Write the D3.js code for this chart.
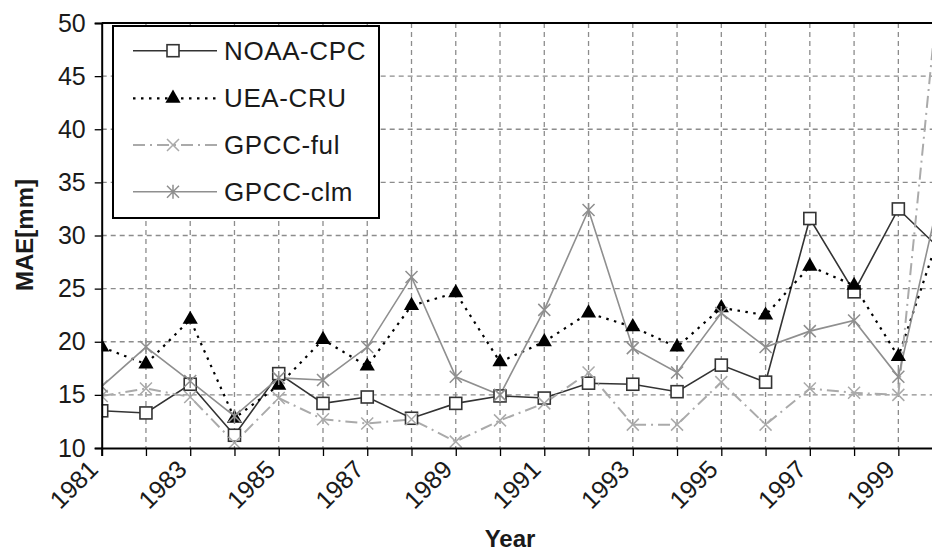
<!DOCTYPE html>
<html>
<head>
    <meta charset="utf-8">
    <title>MAE per year</title>
    <script src="https://cdn.jsdelivr.net/npm/d3@7"></script>
    <style>
        body { margin: 0; background: #fff; }
        text { font-family: "Liberation Sans", Arial, sans-serif; fill: #1a1a1a; }
        .grid line { stroke: #8c8c8c; stroke-width: 1.3; stroke-dasharray: 5,4; }
    </style>
</head>
<body>
<script>
    // donnees
    var years = [1981, 1982, 1983, 1984, 1985, 1986, 1987, 1988, 1989, 1990,
                 1991, 1992, 1993, 1994, 1995, 1996, 1997, 1998, 1999, 2000];
    var noaaCpc = [13.5, 13.3, 16.0, 11.2, 17.0, 14.2, 14.8, 12.8, 14.2, 14.9,
                   14.7, 16.1, 16.0, 15.3, 17.8, 16.2, 31.6, 24.7, 32.5, 28.5];
    var ueaCru  = [19.5, 17.9, 22.1, 12.8, 15.9, 20.2, 17.7, 23.4, 24.6, 18.1,
                   20.0, 22.7, 21.4, 19.5, 23.2, 22.5, 27.1, 25.3, 18.6, 31.0];
    var gpccFul = [14.9, 15.6, 14.8, 10.5, 14.7, 12.7, 12.3, 12.7, 10.6, 12.6,
                   14.2, 17.1, 12.2, 12.2, 16.2, 12.2, 15.6, 15.2, 15.0, 57.0];
    var gpccClm = [15.8, 19.5, 16.3, 13.0, 16.6, 16.4, 19.5, 26.1, 16.7, 15.0,
                   23.0, 32.4, 19.4, 17.1, 22.7, 19.5, 21.0, 22.0, 16.7, 35.0];
    var yTicks = [10, 15, 20, 25, 30, 35, 40, 45, 50];
    var xLabels = [1981, 1983, 1985, 1987, 1989, 1991, 1993, 1995, 1997, 1999];
    var seriesNames = ["NOAA-CPC", "UEA-CRU", "GPCC-ful", "GPCC-clm"];

    var width = 932, height = 551;
    var mLeft = 101.7, mTop = 23, mRight = 942.6, mBottom = 448;

    var x = d3.scaleLinear().domain([1981, 2000]).range([mLeft, mRight]);
    var y = d3.scaleLinear().domain([10, 50]).range([mBottom, mTop]);

    var svg = d3.select("body").append("svg")
        .attr("width", width)
        .attr("height", height);

    svg.append("clipPath").attr("id", "plot")
        .append("rect")
        .attr("x", mLeft).attr("y", mTop)
        .attr("width", mRight - mLeft).attr("height", mBottom - mTop);

    // grille
    var grid = svg.append("g").attr("class", "grid");
    grid.selectAll(".v").data(years.slice(1)).enter().append("line")
        .attr("x1", function(d) { return x(d); }).attr("x2", function(d) { return x(d); })
        .attr("y1", mTop).attr("y2", mBottom);
    grid.selectAll(".h").data(yTicks.slice(1, -1)).enter().append("line")
        .attr("x1", mLeft).attr("x2", mRight)
        .attr("y1", function(d) { return y(d); }).attr("y2", function(d) { return y(d); });

    // series
    var styles = [
        { data: noaaCpc, color: "#333", width: 1.6, dash: null, marker: "square" },
        { data: ueaCru,  color: "#000", width: 2.2, dash: "2.5,5.5", marker: "triangle" },
        { data: gpccFul, color: "#aaa", width: 2,   dash: "12,5,2,5", marker: "x" },
        { data: gpccClm, color: "#8f8f8f", width: 1.6, dash: null, marker: "star" }
    ];

    function drawMarker(g, type, color) {
        if (type === "square") {
            g.append("rect").attr("x", -6).attr("y", -6).attr("width", 12).attr("height", 12)
                .attr("fill", "#fff").attr("stroke", "#333").attr("stroke-width", 1.6);
        } else if (type === "triangle") {
            g.append("path").attr("d", d3.symbol(d3.symbolTriangle, 100)())
                .attr("fill", "#000");
        } else if (type === "x") {
            g.append("path").attr("d", "M-6,-6L6,6M-6,6L6,-6")
                .attr("stroke", color).attr("stroke-width", 1.5).attr("fill", "none");
        } else {
            g.append("path").attr("d", "M-6,-6L6,6M-6,6L6,-6M0,-7L0,7")
                .attr("stroke", color).attr("stroke-width", 1.5).attr("fill", "none");
        }
    }

    var line = d3.line()
        .x(function(d, i) { return x(years[i]); })
        .y(function(d) { return y(d); });

    var plot = svg.append("g").attr("clip-path", "url(#plot)");
    styles.forEach(function(s) {
        plot.append("path")
            .attr("d", line(s.data))
            .attr("fill", "none")
            .attr("stroke", s.color)
            .attr("stroke-width", s.width)
            .attr("stroke-dasharray", s.dash);
    });
    styles.forEach(function(s) {
        s.data.forEach(function(v, i) {
            var g = plot.append("g").attr("transform", "translate(" + x(years[i]) + "," + y(v) + ")");
            drawMarker(g, s.marker, s.color);
        });
    });

    // axes
    svg.append("line").attr("x1", mLeft).attr("x2", width).attr("y1", mTop).attr("y2", mTop)
        .attr("stroke", "#000").attr("stroke-width", 2);

    var yAxis = svg.append("g").attr("transform", "translate(" + mLeft + ",0)")
        .call(d3.axisLeft(y).tickValues(yTicks).tickSize(7).tickPadding(9).tickFormat(d3.format("d")));
    var xAxis = svg.append("g").attr("transform", "translate(0," + mBottom + ")")
        .call(d3.axisBottom(x).tickValues(years).tickSize(8).tickFormat(""));
    [yAxis, xAxis].forEach(function(a) {
        a.select(".domain").attr("stroke", "#000").attr("stroke-width", 2);
        a.selectAll(".tick line").attr("stroke", "#000").attr("stroke-width", 1.3);
    });
    yAxis.selectAll("text").style("font-size", "25px").attr("fill", "#1a1a1a")
        .style("font-family", "'Liberation Sans', Arial, sans-serif");

    svg.append("g").selectAll("text").data(xLabels).enter().append("text")
        .attr("transform", function(d) { return "translate(" + (x(d) - 2) + ",471) rotate(-45)"; })
        .attr("text-anchor", "end")
        .style("font-size", "25px")
        .text(function(d) { return d; });

    // titres
    svg.append("text")
        .attr("transform", "translate(33,235) rotate(-90)")
        .attr("text-anchor", "middle")
        .style("font-size", "24px").style("font-weight", "bold")
        .text("MAE[mm]");
    svg.append("text")
        .attr("x", 510).attr("y", 547)
        .attr("text-anchor", "middle")
        .style("font-size", "24px").style("font-weight", "bold")
        .text("Year");

    // legende
    var legend = svg.append("g");
    legend.append("rect")
        .attr("x", 113).attr("y", 26).attr("width", 266).attr("height", 192)
        .attr("fill", "#fff").attr("stroke", "#000").attr("stroke-width", 2);
    var rowY = [50.7, 98.3, 145, 191.7];
    styles.forEach(function(s, i) {
        var row = legend.append("g").attr("transform", "translate(0," + rowY[i] + ")");
        row.append("line").attr("x1", 133).attr("x2", 217)
            .attr("stroke", s.color).attr("stroke-width", s.width)
            .attr("stroke-dasharray", s.dash);
        drawMarker(row.append("g").attr("transform", "translate(173,0)"), s.marker, s.color);
        row.append("text").attr("x", 224).attr("y", 9)
            .style("font-size", "26px").style("letter-spacing", "0.6px")
            .text(seriesNames[i]);
    });
</script>
</body>
</html>
